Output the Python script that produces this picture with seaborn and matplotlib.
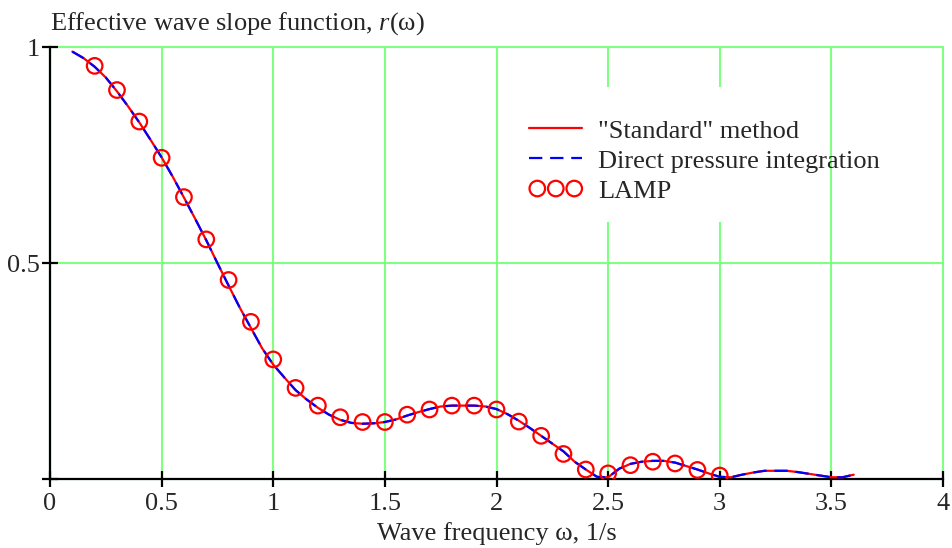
import matplotlib
matplotlib.use("Agg")
import matplotlib.pyplot as plt
import seaborn as sns
import pandas as pd
from matplotlib.patches import Rectangle

# Effective wave slope function r(w): two computed curves and LAMP results
omega_curve = [0.10, 0.15, 0.20, 0.25, 0.30, 0.35, 0.40, 0.45, 0.50, 0.55,
               0.60, 0.65, 0.70, 0.75, 0.80, 0.85, 0.90, 0.95, 1.00, 1.05,
               1.10, 1.15, 1.20, 1.25, 1.30, 1.35, 1.40, 1.45, 1.50, 1.55,
               1.60, 1.65, 1.70, 1.75, 1.80, 1.85, 1.90, 1.95, 2.00, 2.05,
               2.10, 2.15, 2.20, 2.25, 2.30, 2.35, 2.40, 2.45, 2.50, 2.55,
               2.60, 2.65, 2.70, 2.75, 2.80, 2.85, 2.90, 2.95, 3.00, 3.05,
               3.10, 3.15, 3.20, 3.25, 3.30, 3.35, 3.40, 3.45, 3.50, 3.55,
               3.60]
r_standard = [0.990, 0.975, 0.955, 0.930, 0.898, 0.863, 0.826, 0.786, 0.745, 0.700,
              0.652, 0.603, 0.553, 0.500, 0.448, 0.397, 0.350, 0.303, 0.265, 0.235,
              0.206, 0.184, 0.165, 0.149, 0.137, 0.130, 0.128, 0.129, 0.132, 0.138,
              0.147, 0.155, 0.162, 0.168, 0.170, 0.170, 0.170, 0.168, 0.162, 0.150,
              0.135, 0.118, 0.100, 0.082, 0.064, 0.040, 0.022, 0.005, 0.004, 0.024,
              0.035, 0.040, 0.042, 0.042, 0.038, 0.030, 0.022, 0.013, 0.005, 0.004,
              0.010, 0.015, 0.019, 0.019, 0.019, 0.016, 0.012, 0.008, 0.004, 0.004,
              0.010]
r_direct = list(r_standard)

omega_lamp = [0.2, 0.3, 0.4, 0.5, 0.6, 0.7, 0.8, 0.9, 1.0, 1.1,
              1.2, 1.3, 1.4, 1.5, 1.6, 1.7, 1.8, 1.9, 2.0, 2.1,
              2.2, 2.3, 2.4, 2.5, 2.6, 2.7, 2.8, 2.9, 3.0]
r_lamp = [0.957, 0.901, 0.828, 0.744, 0.653, 0.555, 0.461, 0.364, 0.277, 0.211,
          0.170, 0.143, 0.132, 0.132, 0.149, 0.161, 0.170, 0.170, 0.161, 0.133,
          0.100, 0.058, 0.022, 0.013, 0.032, 0.040, 0.036, 0.021, 0.008]

x_ticks = [0, 0.5, 1, 1.5, 2, 2.5, 3, 3.5, 4]
x_tick_labels = ["0", "0.5", "1", "1.5", "2", "2.5", "3", "3.5", "4"]
y_ticks = [0, 0.5, 1]
y_tick_labels = ["", "0.5", "1"]

curves = pd.DataFrame({"omega": omega_curve, "standard": r_standard, "direct": r_direct})
lamp = pd.DataFrame({"omega": omega_lamp, "r": r_lamp})

sns.set_style("white")
plt.rcParams["font.family"] = ["Liberation Serif", "DejaVu Serif"]
plt.rcParams["mathtext.fontset"] = "custom"
plt.rcParams["mathtext.rm"] = "Liberation Serif"
plt.rcParams["mathtext.it"] = "Liberation Serif:italic"

FS = 19
fig = plt.figure(figsize=(9.53, 5.48), dpi=100)
ax = fig.add_axes([50 / 953, 69 / 548, 893 / 953, 431.7 / 548])

sns.lineplot(data=curves, x="omega", y="standard", ax=ax, color="#ff0000",
             linewidth=1.6, label='"Standard" method', zorder=3)
sns.lineplot(data=curves, x="omega", y="direct", ax=ax, color="#0000ff",
             linewidth=1.6, linestyle=(0, (6, 3.5)),
             label="Direct pressure integration", zorder=4)
sns.scatterplot(data=lamp, x="omega", y="r", ax=ax, marker="o", s=125,
                facecolor="none", edgecolor="#ff0000", linewidth=1.6,
                label="LAMP", zorder=5)

ax.set_xlim(0, 4)
ax.set_ylim(0, 1)
ax.set_xticks(x_ticks)
ax.set_xticklabels(x_tick_labels, fontsize=FS)
ax.set_yticks(y_ticks)
ax.set_yticklabels(y_tick_labels, fontsize=FS)
ax.tick_params(axis="both", which="major", bottom=True, left=True,
               direction="inout", length=12, width=1.6, color="black")
ax.tick_params(axis="x", pad=4)
ax.tick_params(axis="y", pad=1)

ax.grid(True, color="#80ff80", linewidth=1.5)
for gl in ax.get_xgridlines() + ax.get_ygridlines():
    gl.set_clip_on(False)
ax.set_axisbelow(True)

for side in ("top", "right"):
    ax.spines[side].set_visible(False)
for side in ("left", "bottom"):
    ax.spines[side].set_color("black")
    ax.spines[side].set_linewidth(1.6)
    ax.spines[side].set_zorder(2.5)

# white panel behind the legend block
ax.add_patch(Rectangle((0.512, 0.595), 0.356, 0.313, transform=ax.transAxes,
                       facecolor="white", edgecolor="none", zorder=1.5))

ax.set_xlabel("Wave frequency ω, 1/s", fontsize=FS, labelpad=5)
ax.set_ylabel("")
ax.set_title("Effective wave slope function, $r$(ω)", loc="left",
             fontsize=FS, pad=13)

leg = ax.legend(loc="upper left", bbox_to_anchor=(0.525, 0.858), frameon=False,
                fontsize=FS, handlelength=2.0, handletextpad=0.6,
                labelspacing=0.25, scatterpoints=3, scatteryoffsets=[0.5],
                borderaxespad=0)

fig.savefig("out.png", dpi=100)
